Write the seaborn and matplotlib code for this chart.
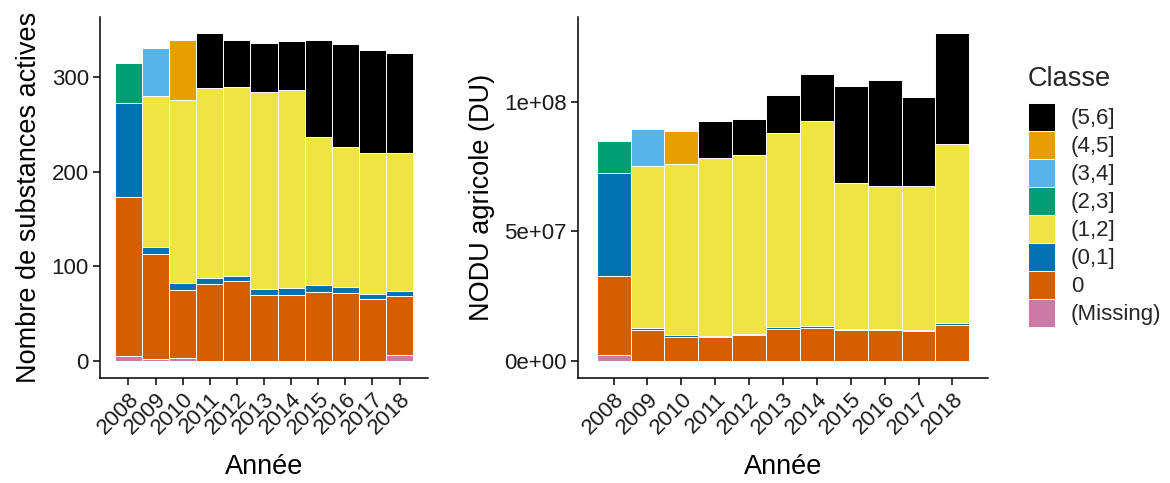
import matplotlib
matplotlib.use("Agg")
import matplotlib.pyplot as plt
from matplotlib.patches import Patch
from matplotlib.ticker import FixedLocator, FixedFormatter
import seaborn as sns
import pandas as pd

# ---------------- data ----------------
years = [2008, 2009, 2010, 2011, 2012, 2013, 2014, 2015, 2016, 2017, 2018]
classes = ["(5,6]", "(4,5]", "(3,4]", "(2,3]", "(1,2]", "(0,1]", "0", "(Missing)"]
colors = ["#000000", "#E69F00", "#56B4E9", "#009E73", "#F0E442", "#0072B2", "#D55E00", "#CC79A7"]

# Nombre de substances actives
n_missing = [5, 2, 3, 0, 0, 0, 0, 0, 0, 0, 6]
n_zero = [168, 111, 72, 81, 84, 70, 70, 73, 72, 65, 63]
n_c01 = [99, 7, 7, 7, 6, 6, 7, 7, 6, 6, 5]
n_c12 = [0, 160, 193, 200, 199, 208, 209, 156, 148, 149, 145]
n_c23 = [42, 0, 0, 0, 0, 0, 0, 0, 0, 0, 0]
n_c34 = [0, 50, 0, 0, 0, 0, 0, 0, 0, 0, 0]
n_c45 = [0, 0, 64, 0, 0, 0, 0, 0, 0, 0, 0]
n_c56 = [0, 0, 0, 58, 50, 52, 52, 103, 108, 108, 106]

# NODU agricole (DU)
d_missing = [0.23e7, 0, 0, 0, 0, 0, 0, 0, 0, 0, 0]
d_zero = [3.05e7, 1.21e7, 0.94e7, 0.93e7, 1.00e7, 1.24e7, 1.27e7, 1.18e7, 1.20e7, 1.17e7, 1.39e7]
d_c01 = [3.97e7, 0.05e7, 0.05e7, 0.05e7, 0.06e7, 0.06e7, 0.09e7, 0.07e7, 0.02e7, 0.04e7, 0.06e7]
d_c12 = [0, 6.26e7, 6.59e7, 6.83e7, 6.88e7, 7.50e7, 7.88e7, 5.62e7, 5.54e7, 5.53e7, 6.92e7]
d_c23 = [1.23e7, 0, 0, 0, 0, 0, 0, 0, 0, 0, 0]
d_c34 = [0, 1.41e7, 0, 0, 0, 0, 0, 0, 0, 0, 0]
d_c45 = [0, 0, 1.30e7, 0, 0, 0, 0, 0, 0, 0, 0]
d_c56 = [0, 0, 0, 1.43e7, 1.39e7, 1.44e7, 1.82e7, 3.73e7, 4.09e7, 3.45e7, 4.27e7]

left_ticks = [0, 100, 200, 300]
right_ticks = [0, 5e7, 1e8]
right_ticklabels = ["0e+00", "5e+07", "1e+08"]


def long_table(series):
    rows = []
    for cls, vals in zip(classes, series):
        for y, v in zip(years, vals):
            rows.append({"Année": y, "Classe": cls, "valeur": v})
    return pd.DataFrame(rows)


df_n = long_table([n_c56, n_c45, n_c34, n_c23, n_c12, n_c01, n_zero, n_missing])
df_d = long_table([d_c56, d_c45, d_c34, d_c23, d_c12, d_c01, d_zero, d_missing])

# ---------------- style ----------------
sns.set_theme(style="ticks")
plt.rcParams["font.family"] = ["Liberation Sans", "DejaVu Sans"]
TXT = "#1a1a1a"
TICK_FS = 16
TITLE_FS = 19.5

fig = plt.figure(figsize=(11.7, 4.83), dpi=100)
W, H = 1170, 483
bot = 1 - 377.5 / H
hgt = 360.8 / H
ax1 = fig.add_axes([100 / W, bot, 328 / W, hgt])
ax2 = fig.add_axes([578 / W, bot, 410 / W, hgt])

pal = dict(zip(classes, colors))

for ax, df in ((ax1, df_n), (ax2, df_d)):
    sns.histplot(data=df, x="Année", weights="valeur", hue="Classe",
                 hue_order=classes, palette=pal, multiple="stack",
                 discrete=True, shrink=1, alpha=1, edgecolor="white",
                 linewidth=0.7, legend=False, ax=ax)
    ax.set_xlim(years[0] - 1.05, years[-1] + 1.05)
    ax.set_xticks(years)
    ax.set_xticklabels([str(y) for y in years], rotation=45, ha="right",
                       va="top", rotation_mode="anchor", fontsize=TICK_FS, color=TXT)
    ax.set_xlabel("Année", fontsize=TITLE_FS, color="black", labelpad=11)
    for s in ("top", "right"):
        ax.spines[s].set_visible(False)
    for s in ("left", "bottom"):
        ax.spines[s].set_linewidth(1.1)
        ax.spines[s].set_color("black")
    ax.tick_params(axis="both", length=5, width=1.1, color="black",
                   labelsize=TICK_FS, labelcolor=TXT, pad=3)
    ax.grid(False)

tot_n = [sum(v) for v in zip(n_missing, n_zero, n_c01, n_c12, n_c23, n_c34, n_c45, n_c56)]
tot_d = [sum(v) for v in zip(d_missing, d_zero, d_c01, d_c12, d_c23, d_c34, d_c45, d_c56)]
mn, md = max(tot_n), max(tot_d)
ax1.set_ylim(-0.05 * mn, 1.05 * mn)
ax2.set_ylim(-0.05 * md, 1.05 * md)

ax1.yaxis.set_major_locator(FixedLocator(left_ticks))
ax1.set_yticklabels([str(t) for t in left_ticks])
ax2.yaxis.set_major_locator(FixedLocator(right_ticks))
ax2.yaxis.set_major_formatter(FixedFormatter(right_ticklabels))

ax1.set_ylabel("Nombre de substances actives", fontsize=TITLE_FS, color="black", labelpad=7)
ax2.set_ylabel("NODU agricole (DU)", fontsize=TITLE_FS, color="black", labelpad=7)

handles = [Patch(facecolor=pal[c], edgecolor="white", linewidth=0.7) for c in classes]
leg = fig.legend(handles, classes, loc="upper left",
                 bbox_to_anchor=(1028 / W, 1 - 66 / H), frameon=False,
                 fontsize=TICK_FS, title="Classe", title_fontsize=TITLE_FS,
                 handlelength=1.22, handleheight=1.56, labelspacing=0.0,
                 handletextpad=0.7, borderpad=0, borderaxespad=0,
                 alignment="left")
leg._legend_box.sep = 8

fig.savefig("out.png", dpi=100)
